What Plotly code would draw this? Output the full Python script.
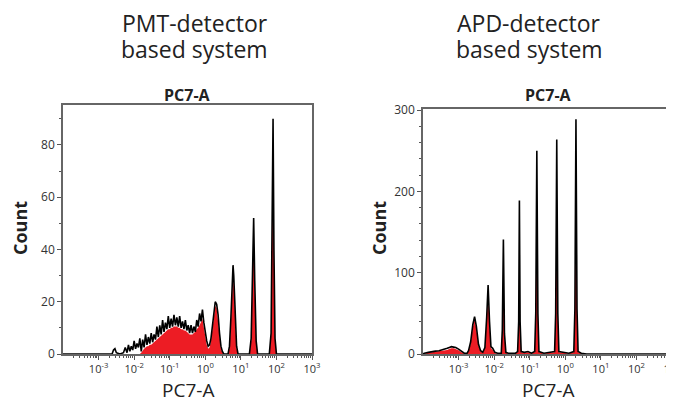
import numpy as np
import plotly.graph_objects as go

# ---------------- data (log10 of PC7-A, counts) ----------------
pmt_log_x = [-4.00, -2.75, -2.62, -2.58, -2.54, -2.50, -2.40, -2.30, -2.25, -2.20, -2.16, -2.12,
             -2.08, -2.04, -2.00, -1.96, -1.92, -1.88, -1.84, -1.80, -1.76, -1.72, -1.68, -1.64,
             -1.60, -1.56, -1.52, -1.48, -1.44, -1.40, -1.36, -1.32, -1.28, -1.24, -1.20, -1.16,
             -1.12, -1.08, -1.04, -1.00, -0.96, -0.92, -0.88, -0.84, -0.80, -0.76, -0.72, -0.68,
             -0.64, -0.60, -0.56, -0.52, -0.48, -0.44, -0.40, -0.36, -0.32, -0.28, -0.24, -0.20,
             -0.16, -0.12, -0.08, -0.04, 0.00, 0.04, 0.08, 0.12, 0.16, 0.20, 0.24, 0.28,
             0.32, 0.36, 0.40, 0.44, 0.48, 0.52, 0.64, 0.68, 0.72, 0.76, 0.78, 0.80,
             0.84, 0.88, 0.92, 1.24, 1.29, 1.33, 1.36, 1.39, 1.43, 1.47, 1.80, 1.85,
             1.88, 1.905, 1.93, 1.96, 2.00, 3.00]
pmt_count = [0, 0, 0, 1.5, 2, 0.5, 0, 0.5, 2.5, 0.5, 3.5, 1,
             3, 1.5, 5, 2, 4, 2.5, 6, 1, 5.5, 2.5, 7.5, 3.5,
             6.5, 4, 8, 4.5, 7.5, 5.5, 10.5, 6.5, 11, 7.5, 13, 8.5,
             12, 9.5, 14.5, 10, 13.5, 10.5, 15, 11, 14, 10.5, 14.5, 10,
             12.5, 9.5, 13, 9, 11, 8, 11, 8, 10.5, 8.5, 13, 10.5,
             15.5, 12.5, 17, 12, 8, 5, 3, 3.5, 6, 11, 17, 20,
             19, 15, 8, 3, 1, 0, 0, 3, 14, 28, 34, 30,
             14, 3, 0, 0, 6, 30, 52, 28, 5, 0, 0, 8,
             45, 90, 40, 6, 0, 0]
pmt_fill = [0, 0, 0, 0, 0, 0, 0, 0, 0, 0, 0, 0,
            0, 0, 0, 0, 0, 0, 0, 0.5, 1.5, 2, 2.5, 3,
            3, 3.5, 3.5, 4, 4.5, 5, 5.5, 6, 6.5, 7, 7.5, 8,
            8.5, 9, 9.5, 9.5, 10, 10, 10.5, 10.5, 10.5, 10, 10, 9.5,
            9.5, 9, 9, 8.5, 8, 7.5, 7.5, 7.5, 8, 8.5, 9.5, 10,
            11, 12, 13.5, 10, 6, 3.5, 2, 2.5, 5, 9.5, 15.5, 18.5,
            17.5, 13, 6.5, 2, 0.5, 0, 0, 2, 12, 25, 30, 27,
            12, 2, 0, 0, 5, 27, 48, 25, 4, 0, 0, 7,
            40, 82, 36, 5, 0, 0]

apd_log_x = [-4.00, -3.96, -3.85, -3.75, -3.65, -3.55, -3.45, -3.38, -3.32, -3.26, -3.20, -3.14,
             -3.08, -3.00, -2.92, -2.84, -2.76, -2.72, -2.66, -2.60, -2.55, -2.50, -2.44, -2.38,
             -2.32, -2.26, -2.21, -2.17, -2.13, -2.09, -2.04, -1.98, -1.90, -1.80, -1.77, -1.74,
             -1.71, -1.67, -1.60, -1.40, -1.34, -1.31, -1.29, -1.27, -1.24, -1.15, -1.05, -0.95,
             -0.86, -0.83, -0.80, -0.77, -0.74, -0.60, -0.30, -0.27, -0.24, -0.21, -0.18, 0.10,
             0.24, 0.27, 0.30, 0.33, 0.36, 0.45, 0.60, 3.00]
apd_count = [0, 1, 2, 3, 3.5, 4, 5, 6, 7, 8, 9, 8.5,
             8, 6, 3, 1, 1, 4, 15, 36, 46, 34, 12, 4,
             2, 8, 45, 85, 40, 9, 7, 2, 1, 1, 30, 141,
             25, 2, 1, 1, 3, 40, 189, 40, 3, 2, 3, 1,
             3, 50, 250, 50, 3, 1, 3, 50, 264, 50, 3, 1,
             3, 55, 289, 55, 3, 1, 0, 0]
apd_fill = [0, 0.5, 1.5, 2, 2.5, 3, 4, 4.5, 5, 6, 7, 7,
            6, 4.5, 2, 0.5, 0.5, 3, 13, 33, 42, 31, 10, 3,
            1.5, 7, 41, 78, 36, 7, 5, 1, 0.5, 1, 27, 130,
            22, 1.5, 0.5, 0.5, 2, 36, 175, 36, 2, 1.5, 2, 0.5,
            2, 45, 230, 45, 2, 0.5, 2, 45, 240, 45, 2, 0.5,
            2, 50, 265, 50, 2, 0.5, 0, 0]

decade_exps = [-3, -2, -1, 0, 1, 2, 3]
decade_labels = ["10<sup>-3</sup>", "10<sup>-2</sup>", "10<sup>-1</sup>", "10<sup>0</sup>",
                 "10<sup>1</sup>", "10<sup>2</sup>", "10<sup>3</sup>"]
pmt_yticks = [0, 20, 40, 60, 80]
apd_yticks = [0, 100, 200, 300]

# ---------------- figure ----------------
RED = "#ED1C24"
FONT = "Open Sans"
fig = go.Figure()


def add_hist(lx, black, fill, xa, ya):
    xv = np.power(10.0, np.array(lx))
    fig.add_trace(go.Scatter(x=xv, y=fill, mode="lines", line=dict(width=0, color=RED),
                             fill="tozeroy", fillcolor=RED, xaxis=xa, yaxis=ya,
                             hoverinfo="skip", showlegend=False))
    fig.add_trace(go.Scatter(x=xv, y=black, mode="lines", line=dict(width=1.6, color="black"),
                             xaxis=xa, yaxis=ya, showlegend=False))


add_hist(pmt_log_x, pmt_count, pmt_fill, "x", "y")
add_hist(apd_log_x, apd_count, apd_fill, "x2", "y2")

W, H = 674, 402
OFF = 8  # page body margin in the browser


def px(x):
    return (x - OFF) / W


def py(y):
    return 1 - (y - OFF) / H


major_vals = [10.0 ** e for e in decade_exps]
minor_vals = [m * 10.0 ** e for e in range(-4, 3) for m in range(2, 10)]


def xaxis_cfg(x0, x1, anchor):
    return dict(type="log", range=[-4, 3], domain=[px(x0), px(x1)], anchor=anchor,
                automargin=False,
                tickmode="array", tickvals=major_vals, ticktext=decade_labels,
                ticks="outside", ticklen=4, tickcolor="#555", tickwidth=1.2,
                minor=dict(tickmode="array", tickvals=minor_vals, ticks="outside",
                           ticklen=2.5, tickcolor="#555", tickwidth=1.2, showgrid=False),
                showline=True, linecolor="#666", linewidth=1.6, mirror=True,
                showgrid=False, zeroline=False,
                tickfont=dict(family=FONT, size=11, color="#333"))


def yaxis_cfg(y0, y1, rng, tv, mdt, anchor):
    return dict(range=rng, domain=[py(y1), py(y0)], anchor=anchor,
                automargin=False,
                tickmode="array", tickvals=tv,
                ticks="outside", ticklen=4, tickcolor="#555", tickwidth=1.2,
                minor=dict(dtick=mdt, tick0=0, ticks="outside", ticklen=2.5,
                           tickcolor="#555", tickwidth=1.2, showgrid=False),
                showline=True, linecolor="#666", linewidth=1.6, mirror=True,
                showgrid=False, zeroline=False,
                tickfont=dict(family=FONT, size=12, color="#333"))


fig.update_layout(
    width=W, height=H, margin=dict(l=0, r=0, t=0, b=0, autoexpand=False),
    paper_bgcolor="white", plot_bgcolor="white",
    xaxis=xaxis_cfg(63, 312, "y"),
    yaxis=yaxis_cfg(105, 354, [0, 95.3], pmt_yticks, 10, "x"),
    xaxis2=xaxis_cfg(423, 672, "y2"),
    yaxis2=yaxis_cfg(109, 354, [0, 301.5], apd_yticks, 20, "x2"),
)

texts = [
    ("PMT-detector", 195, 23, 23, "normal", 0),
    ("based system", 195, 49, 23, "normal", 0),
    ("APD-detector", 529, 23, 23, "normal", 0),
    ("based system", 529, 49, 23, "normal", 0),
    ("PC7-A", 187, 95, 16, "bold", 0),
    ("PC7-A", 548, 95, 16, "bold", 0),
    ("PC7-A", 188, 390, 19, "normal", 0),
    ("PC7-A", 548, 390, 19, "normal", 0),
    ("Count", 20, 228, 18, "bold", -90),
    ("Count", 379, 228, 18, "bold", -90),
]
for t, x, y, sz, wt, ang in texts:
    fig.add_annotation(text=t, x=px(x), y=py(y), xref="paper", yref="paper",
                       xanchor="center", yanchor="middle", showarrow=False, textangle=ang,
                       font=dict(family=FONT, size=sz, color="#222", weight=wt))

fig.write_html("out.html")
